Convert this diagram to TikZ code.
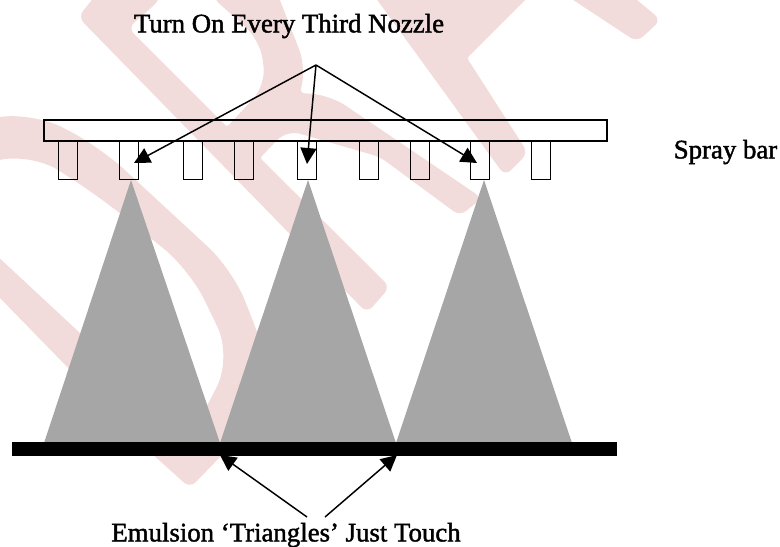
\documentclass[tikz,border=0pt]{standalone}
\usepackage{fontspec}
\setmainfont[RawFeature={embolden=1.6}]{Liberation Serif}
\usetikzlibrary{arrows.meta}
\definecolor{wmpink}{HTML}{F2DCDB}
\definecolor{spraygrey}{HTML}{A6A6A6}

\begin{document}
\begin{tikzpicture}[
x=0.75pt,y=-0.75pt,
watermark/.style={fill=wmpink,even odd rule,rounded corners=6pt},
spray/.style={fill=spraygrey},
nozzle/.style={draw,line width=0.7pt,minimum width=14.25pt,minimum height=28.5pt,inner sep=0pt},
spraybar/.style={draw,line width=1.2pt,minimum width=422pt,minimum height=15.75pt,inner sep=0pt},
belt/.style={fill=black,minimum width=453.75pt,minimum height=10.5pt,inner sep=0pt},
pointer/.style={line width=1.1pt,-{Triangle[length=12pt,width=12pt]}},
caption/.style={font=\fontsize{20.1}{24}\selectfont,inner sep=0pt}
]
\clip (0,0) rectangle (780,546);

\fill[watermark] (-20,120) [rounded corners=25pt] -- (33,112) -- (100,147) -- (233,270) -- (272,370) [rounded corners=6pt] -- (250,425) -- (222,455) -- (190,488) -- (150,452) -- (0,298) -- (-20,278) -- (-20,240) -- (80,333) -- (170,425) -- (205,410) [rounded corners=25pt] -- (232,357) -- (190,270) -- (100,197) -- (30,152) [rounded corners=6pt] -- (-20,165) -- cycle;
\fill[watermark] (78,17) -- (100,-10) -- (276,-10) [rounded corners=14pt] -- (306,67) [rounded corners=3pt] -- (300,93) [rounded corners=14pt] -- (330,95) [rounded corners=6pt] -- (482,198) -- (460,216) -- (380,157) [rounded corners=10pt] -- (287,130) [rounded corners=2pt] -- (260,158) [rounded corners=6pt] -- (390,287) -- (367,313) -- cycle
(128,28) [rounded corners=2pt] -- (227,127) [rounded corners=14pt] -- (266,85) -- (260,40) [rounded corners=6pt] -- (213,-2) -- (213,-10) -- (160,-10) -- (160,0) -- cycle;
\fill[watermark] (370,-10) -- (505,176) -- (528,153) [rounded corners=2pt] -- (467,58) [rounded corners=6pt] -- (535,-10) -- cycle;
\fill[watermark] (558,-10) -- (637,42) -- (661,20) -- (625,-10) -- cycle;

\fill[spray] (131,180) -- (44,443) -- (220,443) -- cycle;
\fill[spray] (308,180) -- (220,443) -- (396,443) -- cycle;
\fill[spray] (484,180) -- (396,443) -- (572,443) -- cycle;

\node[spraybar] (bar) at (325.5,130.5) {};
\foreach \n/\x in {1/68,2/129,3/193,4/244,5/307,6/369,7/420,8/480,9/541}
\node[nozzle] (noz\n) at (\x,160) {};
\node[belt] (ground) at (314.5,449) {};

\node[caption] (top) at (289,26) {Turn On Every Third Nozzle};
\node[caption] (side) at (725.5,152) {Spray bar};
\node[caption] (bottom) at (286,535) {Emulsion ‘Triangles’ Just Touch};

\coordinate (fan) at (316,65);
\coordinate (hitA) at (134,163);
\coordinate (hitB) at (307,164);
\coordinate (hitC) at (477,163);
\coordinate (startL) at (307,517);
\coordinate (startR) at (325,517);
\coordinate (touchL) at (220,455);
\coordinate (touchR) at (397,455);

\draw[pointer] (fan) -- (hitA);
\draw[pointer] (fan) -- (hitB);
\draw[pointer] (fan) -- (hitC);
\draw[pointer] (startL) -- (touchL);
\draw[pointer] (startR) -- (touchR);
\end{tikzpicture}
\end{document}
